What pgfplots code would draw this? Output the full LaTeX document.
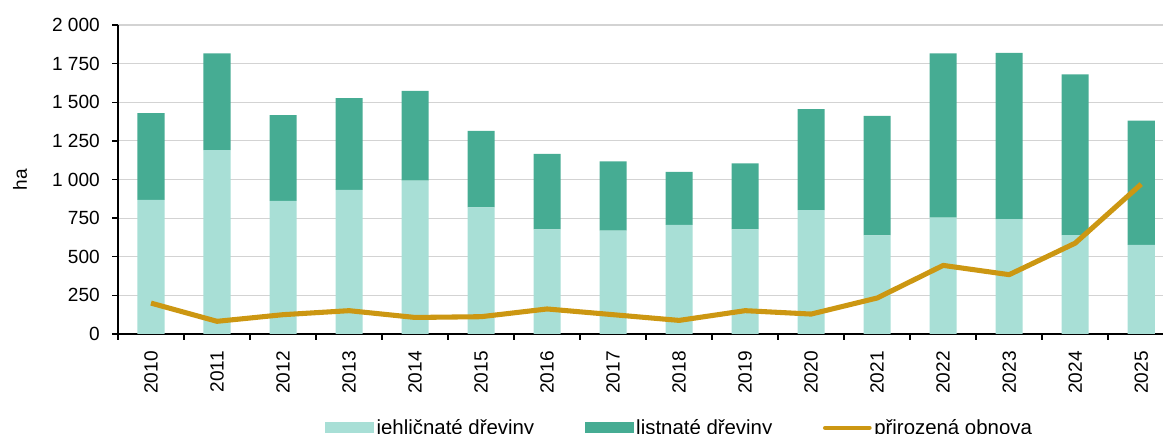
\documentclass[border=0pt]{standalone}
\usepackage{pgfplots}
\pgfplotsset{compat=1.18}
\usepackage{pgfplotstable}
\usepackage{fontspec}
\setmainfont{Liberation Sans}
\definecolor{jehl}{HTML}{A8DFD6}
\definecolor{list}{HTML}{46AC93}
\definecolor{obn}{HTML}{CC9712}
\definecolor{gridc}{HTML}{D3D3D3}

\pgfplotstableread{
x  year jehl list obnova
0  2010 868  561  200
1  2011 1190 627  82
2  2012 862  554  125
3  2013 933  593  151
4  2014 993  580  107
5  2015 819  495  112
6  2016 677  489  162
7  2017 669  449  125
8  2018 707  342  88
9  2019 677  428  151
10 2020 802  653  129
11 2021 638  774  233
12 2022 754  1063 444
13 2023 743  1076 384
14 2024 640  1041 588
15 2025 577  804  970
}\datatable

\begin{document}
\begin{tikzpicture}[font=\fontsize{14}{17}\selectfont]
\begin{axis}[
  name=ax,
  scale only axis,
  width=783.75pt, height=231.75pt,
  xmin=-0.5, xmax=15.33,
  ymin=0, ymax=2000,
  ybar stacked,
  bar width=0.41,
  axis lines*=left,
  axis line style={line width=1.1pt, black},
  tick align=outside,
  major tick length=0pt,
  minor tick length=4.3pt,
  tick style={line width=1.1pt, black},
  xtick={0,...,15},
  xticklabels={2010,2011,2012,2013,2014,2015,2016,2017,2018,2019,2020,2021,2022,2023,2024,2025},
  minor xtick={-0.5,0.5,...,14.5},
  ytick={0,250,...,2000},
  yticklabels={0,250,500,750,1 000,1 250,1 500,1 750,2 000},
  minor ytick={0,250,...,2000},
  ymajorgrids,
  grid style={gridc, line width=0.9pt},
  /pgf/number format/assume math mode=true,
  tick label style={font=\fontsize{14.3}{17}\selectfont},
  xticklabel style={rotate=90, anchor=east, inner sep=0pt, xshift=-12.8pt},
  yticklabel style={anchor=east, inner sep=0pt, xshift=-13.5pt},
  ylabel={ha},
  ylabel style={at={(axis description cs:-0.0938,0.5)}, anchor=center, font=\fontsize{14.3}{17}\selectfont},
  legend columns=3,
  legend style={at={(axis description cs:0.1981,-0.3035)}, anchor=west, draw=none, inner sep=0pt,
    font=\fontsize{15.3}{18}\selectfont,
    /tikz/every even column/.append style={column sep=36pt}},
  legend cell align=left,
]
\addplot[fill=jehl, draw=none,
  legend image code/.code={\fill[jehl] (0pt,-4.1pt) rectangle (36.5pt,4.1pt);}]
  table[x=x, y=jehl] {\datatable};
\addlegendentry{jehličnaté dřeviny}
\addplot[fill=list, draw=none,
  legend image code/.code={\fill[list] (0pt,-4.1pt) rectangle (36.5pt,4.1pt);}]
  table[x=x, y=list] {\datatable};
\addlegendentry{listnaté dřeviny}
\addlegendimage{legend image code/.code={\draw[obn, line width=3.4pt, line cap=round] (1.7pt,0pt) -- (34.8pt,0pt);}}
\addlegendentry{přirozená obnova}
\end{axis}
\begin{axis}[
  scale only axis,
  width=783.75pt, height=231.75pt,
  xmin=-0.5, xmax=15.33,
  ymin=0, ymax=2000,
  axis lines=none,
  ticks=none,
]
\addplot[obn, line width=3.8pt, line join=round, mark=none] table[x=x, y=obnova] {\datatable};
\end{axis}
\pgfresetboundingbox
\useasboundingbox ([xshift=-88.5pt,yshift=-75pt]ax.south west) rectangle ([yshift=18.75pt]ax.north east);
\end{tikzpicture}
\end{document}
